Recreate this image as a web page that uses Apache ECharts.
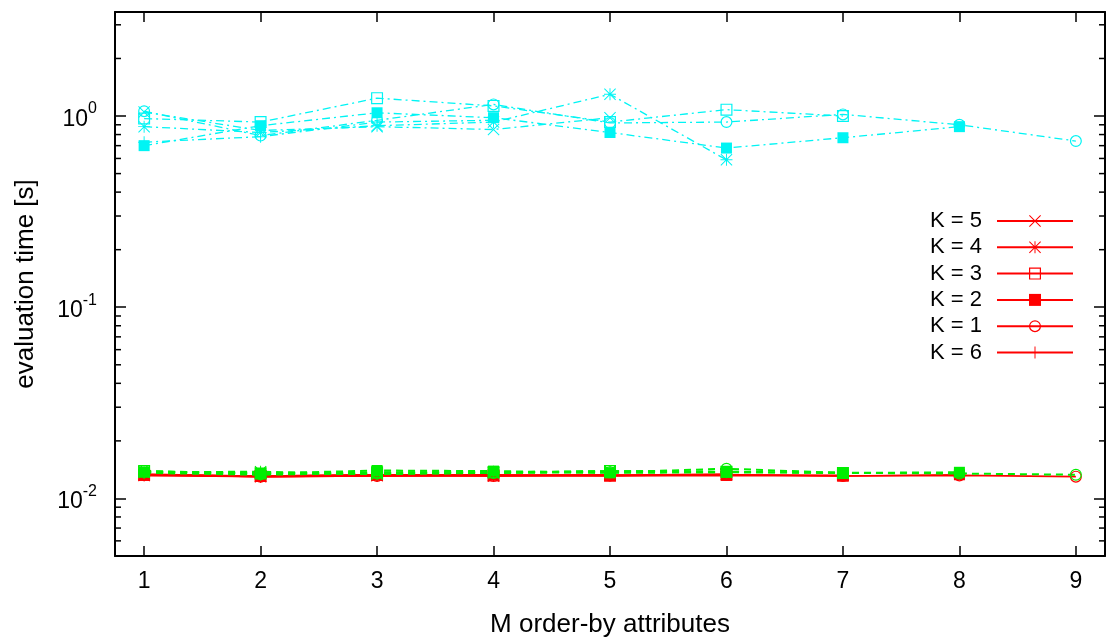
<!DOCTYPE html>
<html>
<head>
<meta charset="utf-8">
<script src="https://cdn.jsdelivr.net/npm/echarts@6/dist/echarts.min.js"></script>
<style>
html,body{margin:0;padding:0;background:#fff;}
#chart{width:1109px;height:643px;}
</style>
</head>
<body>
<div id="chart"></div>
<script>
// ---- data ----
const mValues = [1, 2, 3, 4, 5, 6, 7, 8, 9];
const kOrder = [5, 4, 3, 2, 1, 6];
const legendNames = ['K = 5', 'K = 4', 'K = 3', 'K = 2', 'K = 1', 'K = 6'];

// red (solid)
const redK5 = [0.0133, 0.0131, 0.0132, 0.0132, 0.0133];
const redK4 = [0.0132, 0.0130, 0.0132, 0.0131, 0.0132, 0.0134];
const redK3 = [0.0133, 0.0131, 0.0133, 0.0132, 0.0132, 0.0133, 0.0132];
const redK2 = [0.0132, 0.0131, 0.0133, 0.0133, 0.0131, 0.0132, 0.0131, 0.0133];
const redK1 = [0.0134, 0.0130, 0.0131, 0.0131, 0.0132, 0.0133, 0.0131, 0.0132, 0.0130];
const redK6 = [0.0133, 0.0130, 0.0131, 0.0133];

// green (dashed)
const greenK5 = [0.0138, 0.0136, 0.0135, 0.0137, 0.0138];
const greenK4 = [0.0137, 0.0138, 0.0134, 0.0136, 0.0139, 0.0137];
const greenK3 = [0.0139, 0.0135, 0.0137, 0.0137, 0.0139, 0.0138, 0.0136];
const greenK2 = [0.0137, 0.0135, 0.0140, 0.0139, 0.0136, 0.0137, 0.0136, 0.0137];
const greenK1 = [0.0139, 0.0134, 0.0135, 0.0136, 0.0137, 0.0143, 0.0136, 0.0135, 0.0133];
const greenK6 = [0.0136, 0.0133, 0.0136, 0.0138];

// cyan (dash-dot)
const cyanK5 = [1.05, 0.84, 0.88, 0.85, 0.98];
const cyanK4 = [0.88, 0.82, 0.89, 0.93, 1.30, 0.59];
const cyanK3 = [0.97, 0.93, 1.24, 1.13, 0.93, 1.08, 1.00];
const cyanK2 = [0.70, 0.89, 1.04, 0.98, 0.82, 0.68, 0.77, 0.88];
const cyanK1 = [1.06, 0.79, 0.95, 1.15, 0.92, 0.93, 1.02, 0.90, 0.74];
const cyanK6 = [0.73, 0.78, 0.93, 0.95];

const yMinorTicks = [0.006, 0.007, 0.008, 0.009, 0.02, 0.03, 0.04, 0.05, 0.06, 0.07, 0.08, 0.09,
  0.2, 0.3, 0.4, 0.5, 0.6, 0.7, 0.8, 0.9, 2, 3];

// ---- symbols ----
const SYM_X = 'path://M0,6 L6,0 L100,94 L94,100 Z M94,0 L100,6 L6,100 L0,94 Z';
const SYM_PLUS = 'path://M46,0 L54,0 L54,100 L46,100 Z M0,46 L100,46 L100,54 L0,54 Z';
const SYM_STAR = 'path://M0,6 L6,0 L100,94 L94,100 Z M94,0 L100,6 L6,100 L0,94 Z M46,0 L54,0 L54,100 L46,100 Z M0,46 L100,46 L100,54 L0,54 Z';
const SYM_OSQ = 'path://M0,0 L100,0 L100,100 L0,100 Z M10,10 L10,90 L90,90 L90,10 Z';
const SYM_OCIRC = 'path://M50,0 A50,50 0 1,1 50,100 A50,50 0 1,1 50,0 Z M50,10 A40,40 0 1,0 50,90 A40,40 0 1,0 50,10 Z';
const symbolsByK = {5: SYM_X, 4: SYM_STAR, 3: SYM_OSQ, 2: 'rect', 1: SYM_OCIRC, 6: SYM_PLUS};

const groups = [
  {color: '#ff0000', dash: 'solid', width: 1.6, named: true,
   data: {5: redK5, 4: redK4, 3: redK3, 2: redK2, 1: redK1, 6: redK6}},
  {color: '#00ee00', dash: [7, 5], width: 2, named: false,
   data: {5: greenK5, 4: greenK4, 3: greenK3, 2: greenK2, 1: greenK1, 6: greenK6}},
  {color: '#00f4f4', dash: [8, 4, 2, 4], width: 1.3, named: false,
   data: {5: cyanK5, 4: cyanK4, 3: cyanK3, 2: cyanK2, 1: cyanK1, 6: cyanK6}}
];

const series = [];
groups.forEach(function (g, gi) {
  kOrder.forEach(function (k, ki) {
    const vals = g.data[k];
    const sym = symbolsByK[k];
    series.push({
      type: 'line',
      name: g.named ? legendNames[ki] : ('_g' + gi + '_' + k),
      data: vals.map(function (v, i) { return [mValues[i], v]; }),
      symbol: sym,
      symbolSize: sym === 'rect' ? 11 : 12,
      showAllSymbol: true,
      lineStyle: {color: g.color, width: g.width, type: g.dash},
      itemStyle: {color: g.color, borderWidth: 0},
      emphasis: {disabled: true},
      silent: true
    });
  });
});

// minor ticks on the log axis (left and right border)
series.push({
  type: 'custom',
  name: '_minor',
  silent: true,
  clip: false,
  data: yMinorTicks.map(function (v) { return [1, v]; }),
  encode: {x: 0, y: 1},
  renderItem: function (params, api) {
    const cs = params.coordSys;
    const y = api.coord([1, api.value(1)])[1];
    return {
      type: 'group',
      children: [
        {type: 'line', shape: {x1: cs.x, y1: y, x2: cs.x + 6, y2: y}, style: {stroke: '#000', lineWidth: 1.5}},
        {type: 'line', shape: {x1: cs.x + cs.width - 6, y1: y, x2: cs.x + cs.width, y2: y}, style: {stroke: '#000', lineWidth: 1.5}}
      ]
    };
  }
});

function yFmt(v) {
  const l = Math.log10(v);
  const e = Math.round(l);
  if (Math.abs(l - e) > 1e-6) return '';
  return '{b|10}{s|' + e + '}';
}
function xFmt(v) {
  return Math.abs(v - Math.round(v)) < 1e-6 ? String(Math.round(v)) : '';
}

const FONT = 'Liberation Sans, Arial, sans-serif';
const axisLineStyle = {color: '#000', width: 2};

const option = {
  animation: false,
  backgroundColor: '#fff',
  grid: {left: 115, right: 4, top: 12, bottom: 84, show: false},
  legend: {
    data: legendNames,
    orient: 'vertical',
    right: 30,
    top: 205,
    align: 'right',
    itemWidth: 76,
    itemHeight: 15,
    itemGap: 4.3,
    textStyle: {fontFamily: FONT, fontSize: 22, color: '#000', padding: [0, 10, 0, 0]},
    selectedMode: false
  },
  xAxis: [
    {
      type: 'value', min: 0.75, max: 9.25, splitNumber: 9, position: 'bottom',
      name: 'M order-by attributes', nameLocation: 'middle', nameGap: 56,
      nameTextStyle: {fontFamily: FONT, fontSize: 26, color: '#000'},
      axisLine: {show: true, lineStyle: axisLineStyle},
      axisTick: {inside: true, length: 10, lineStyle: {color: '#000', width: 1.5}},
      axisLabel: {formatter: xFmt, fontFamily: FONT, fontSize: 23, color: '#000', margin: 14,
                  showMinLabel: false, showMaxLabel: false},
      splitLine: {show: false}
    },
    {
      type: 'value', min: 0.75, max: 9.25, splitNumber: 9, position: 'top',
      axisLine: {show: true, lineStyle: axisLineStyle},
      axisTick: {inside: true, length: 10, lineStyle: {color: '#000', width: 1.5}},
      axisLabel: {show: false},
      splitLine: {show: false}
    }
  ],
  yAxis: [
    {
      type: 'log', logBase: 10, min: 0.005, max: 3.5, position: 'left',
      name: 'evaluation time [s]', nameLocation: 'middle', nameGap: 76, nameRotate: 90,
      nameTextStyle: {fontFamily: FONT, fontSize: 26, color: '#000'},
      axisLine: {show: true, lineStyle: axisLineStyle},
      axisTick: {inside: true, length: 11, lineStyle: {color: '#000', width: 1.5}},
      axisLabel: {
        formatter: yFmt, margin: 18, color: '#000', fontFamily: FONT,
        showMinLabel: false, showMaxLabel: false,
        rich: {
          b: {fontFamily: FONT, fontSize: 23, color: '#000', verticalAlign: 'bottom', lineHeight: 30},
          s: {fontFamily: FONT, fontSize: 16, color: '#000', verticalAlign: 'top', lineHeight: 30}
        }
      },
      splitLine: {show: false}
    },
    {
      type: 'log', logBase: 10, min: 0.005, max: 3.5, position: 'right',
      axisLine: {show: true, lineStyle: axisLineStyle},
      axisTick: {inside: true, length: 11, lineStyle: {color: '#000', width: 1.5}},
      axisLabel: {show: false},
      splitLine: {show: false}
    }
  ],
  series: series
};

const chart = echarts.init(document.getElementById('chart'), null, {renderer: 'canvas'});
chart.setOption(option);
</script>
</body>
</html>
